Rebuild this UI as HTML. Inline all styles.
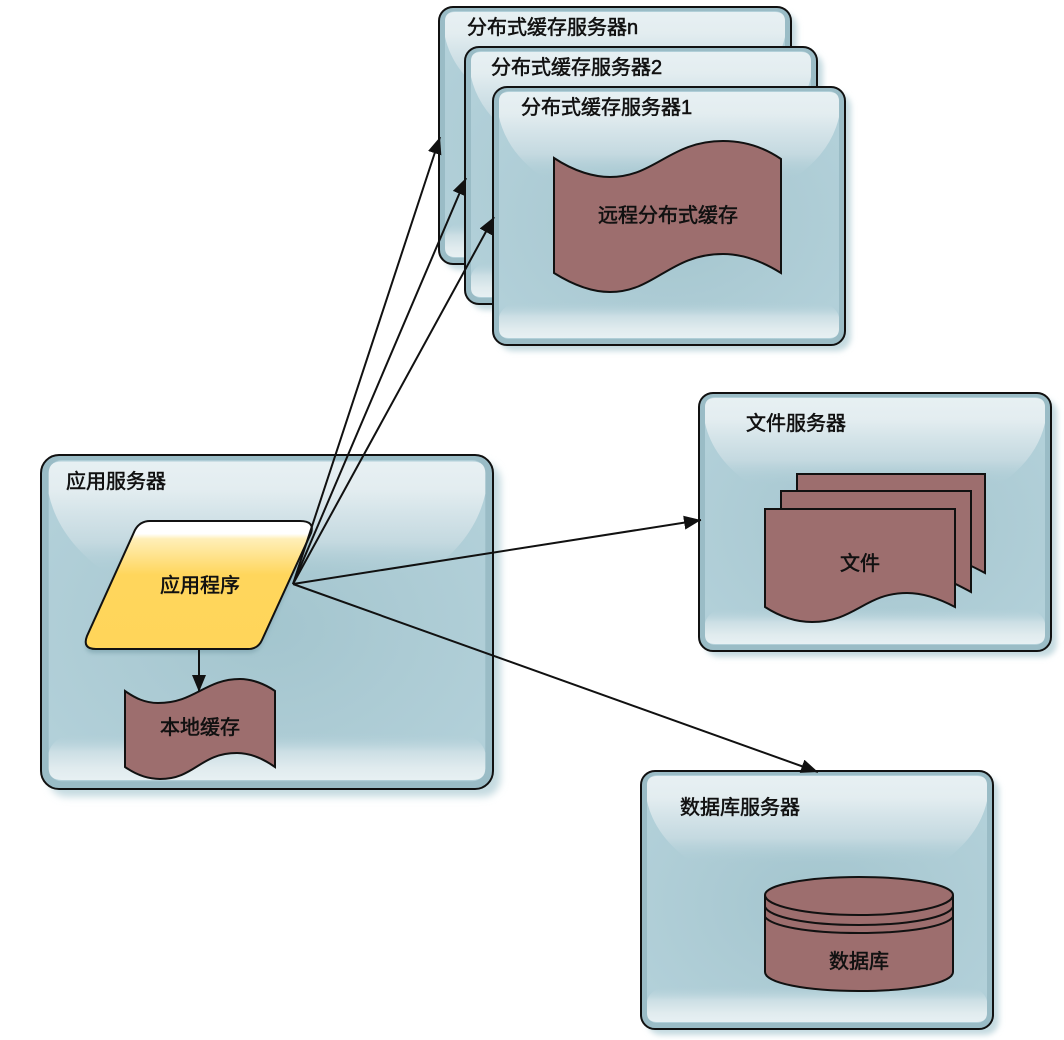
<!DOCTYPE html>
<html>
<head>
<meta charset="utf-8">
<style>
html,body{margin:0;padding:0;background:#fff;width:1064px;height:1040px;overflow:hidden}
svg{display:block}
text{font-family:"Liberation Sans","Noto Sans CJK SC",sans-serif;font-size:20px;fill:#111;stroke:#111;stroke-width:.55px}
</style>
</head>
<body>
<svg width="1064" height="1040" viewBox="0 0 1064 1040" xmlns="http://www.w3.org/2000/svg">
<defs>
<filter id="blur" x="-10%" y="-10%" width="120%" height="120%"><feGaussianBlur stdDeviation="3"/></filter>
<filter id="blur2" x="-10%" y="-10%" width="120%" height="120%"><feGaussianBlur stdDeviation="2"/></filter>
<radialGradient id="base" cx=".5" cy=".52" r=".6"><stop offset="0" stop-color="#a3c5ce"/><stop offset=".55" stop-color="#accbd4"/><stop offset="1" stop-color="#b2d0d9"/></radialGradient>
<linearGradient id="gt" x1="0" y1="0" x2="0" y2="1"><stop offset="0" stop-color="#e7f0f3"/><stop offset=".25" stop-color="#e3edf0"/><stop offset=".45" stop-color="#d5e4e9"/><stop offset=".72" stop-color="#c4d9e0"/><stop offset="1" stop-color="#aecdd6" stop-opacity="0"/></linearGradient>
<linearGradient id="gb" x1="0" y1="0" x2="0" y2="1"><stop offset="0" stop-color="#aecdd6" stop-opacity="0"/><stop offset=".4" stop-color="#cbdee4"/><stop offset=".75" stop-color="#e0ebee"/><stop offset="1" stop-color="#e7f0f3"/></linearGradient>
<linearGradient id="gold" x1="0" y1="0" x2="0" y2="1"><stop offset="0" stop-color="#ffffff"/><stop offset=".1" stop-color="#ffffff"/><stop offset=".14" stop-color="#ffefb8"/><stop offset=".42" stop-color="#ffd65c"/><stop offset="1" stop-color="#ffd55a"/></linearGradient>
<symbol id="box" viewBox="0 0 352 258" preserveAspectRatio="none" overflow="visible">
<rect x="6" y="6" width="352" height="258" rx="14" fill="#c4dae0" filter="url(#blur)"/>
<rect x="0" y="0" width="352" height="258" rx="14" fill="#9abcc6" stroke="#111" stroke-width="2" vector-effect="non-scaling-stroke"/>
<rect x="6" y="4" width="340" height="248" rx="10" fill="url(#base)"/>
<path d="M6 14Q6 5 16 5H336Q346 5 346 14V30Q338 66 300 92H52Q14 66 6 30Z" fill="url(#gt)"/>
<path d="M6 230Q8 220 24 214H328Q344 220 346 230V242Q346 251 336 251H16Q6 251 6 242Z" fill="url(#gb)"/>
</symbol>
<marker id="arr" viewBox="0 0 17 14" refX="17" refY="7" markerWidth="17" markerHeight="14" markerUnits="userSpaceOnUse" orient="auto"><path d="M0 0L17 7L0 14Z" fill="#111"/></marker>
</defs>

<use href="#box" x="439" y="7" width="352" height="257"/>
<use href="#box" x="465" y="47" width="352" height="257"/>
<use href="#box" x="493" y="87" width="352" height="258"/>
<use href="#box" x="699" y="393" width="352" height="258"/>
<use href="#box" x="641" y="771" width="352" height="258"/>
<use href="#box" x="41" y="455" width="452" height="334"/>

<!-- remote cache -->
<path d="M554 158C575 172 595 177 610 177C655 177 670 141 723 141C745 141 765 148 781 159V273C765 263 745 254 723 254C670 254 655 292 610 292C590 292 570 283 554 273Z" fill="#9d6e6e" stroke="#111" stroke-width="2"/>

<!-- files -->
<path d="M797 474H985V573C972 566 960 560 945 558L797 560Z" fill="#9d6e6e" stroke="#111" stroke-width="2"/>
<path d="M781 491H971V592C958 585 946 578 930 576L781 578Z" fill="#9d6e6e" stroke="#111" stroke-width="2"/>
<path d="M765 509H955V607C938 598 922 593 907 593C865 593 855 622 812 622C795 622 779 616 765 607Z" fill="#9d6e6e" stroke="#111" stroke-width="2"/>

<!-- database -->
<path d="M765 895C765 885 806 877 859 877C912 877 953 885 953 895V972C953 983 912 991 859 991C806 991 765 983 765 972Z" fill="#9d6e6e" stroke="#111" stroke-width="2"/>
<path d="M765 895C765 906 806 915 859 915C912 915 953 906 953 895M765 907C770 917 806 925 859 925C912 925 948 917 953 907M765 917C772 926 806 933 859 933C912 933 946 926 953 917" fill="none" stroke="#111" stroke-width="2"/>

<!-- app -->
<path d="M150 525H300Q315 525 311 537L262 644Q258 653 248 653H96Q82 653 87 640L135 534Q140 525 150 525Z" fill="#8aafb9" filter="url(#blur2)"/>
<path d="M150 521H300Q315 521 311 533L262 640Q258 649 248 649H96Q82 649 87 636L135 530Q140 521 150 521Z" fill="url(#gold)" stroke="#111" stroke-width="2"/>

<!-- local cache -->
<path d="M125 691C135 698 145 703 158 703C195 703 205 679 240 679C252 679 265 684 275 691V767C265 760 252 753 237 753C200 753 195 779 160 779C147 779 135 774 125 767Z" fill="#9d6e6e" stroke="#111" stroke-width="2"/>

<!-- connectors -->
<g fill="none" stroke="#111" stroke-width="2">
<line x1="293" y1="584" x2="440" y2="137" marker-end="url(#arr)"/>
<line x1="293" y1="584" x2="466" y2="178" marker-end="url(#arr)"/>
<line x1="293" y1="584" x2="494" y2="217" marker-end="url(#arr)"/>
<line x1="293" y1="584" x2="701" y2="520" marker-end="url(#arr)"/>
<line x1="293" y1="584" x2="818" y2="772" marker-end="url(#arr)"/>
<line x1="199" y1="649" x2="199" y2="692" marker-end="url(#arr)"/>
</g>

<text x="467" y="34">分布式缓存服务器n</text>
<text x="491" y="74">分布式缓存服务器2</text>
<text x="521" y="114">分布式缓存服务器1</text>
<text x="598" y="222">远程分布式缓存</text>
<text x="66" y="488">应用服务器</text>
<text x="160" y="592">应用程序</text>
<text x="160" y="734">本地缓存</text>
<text x="746" y="430">文件服务器</text>
<text x="840" y="570">文件</text>
<text x="680" y="814">数据库服务器</text>
<text x="829" y="968">数据库</text>
</svg>
</body>
</html>
